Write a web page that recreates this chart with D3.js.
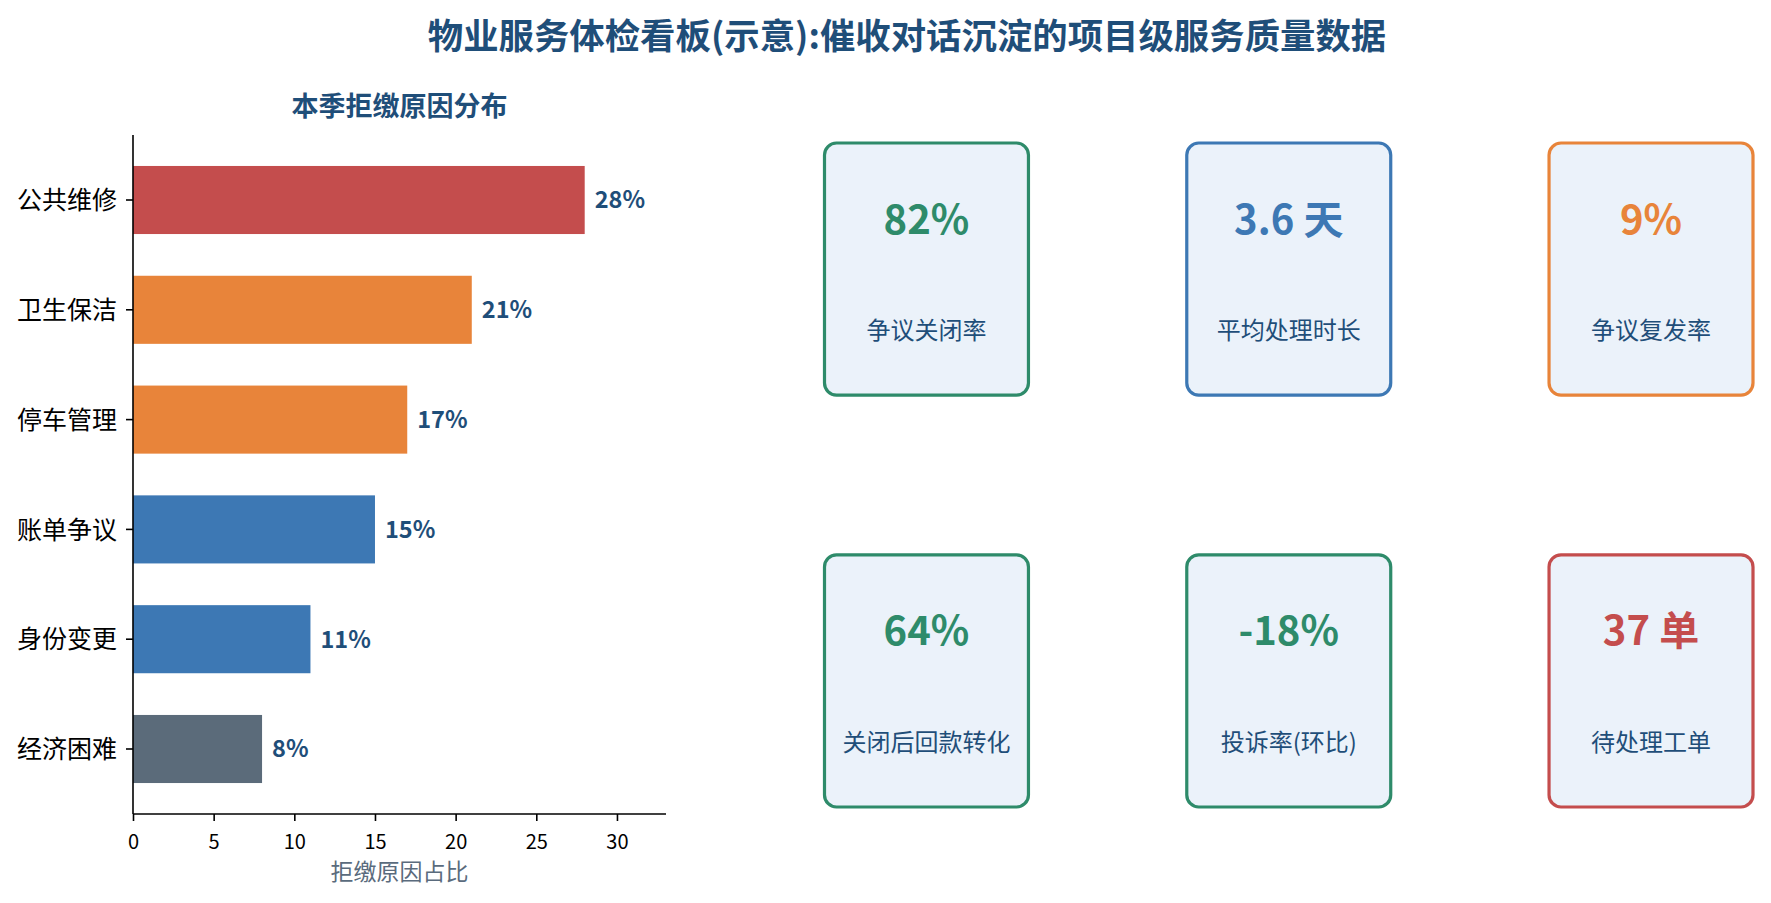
<!DOCTYPE html>
<html><head><meta charset="utf-8">
<script src="https://cdn.jsdelivr.net/npm/d3@7"></script>
<style>
body{margin:0;background:#fff}
svg{display:block}
text{font-family:'Noto Sans CJK SC','Noto Sans',sans-serif}
</style>
</head><body>
<svg id="chart" width="1771" height="903"></svg>
<script>
// ---- data ----
const mainTitle = "物业服务体检看板(示意):催收对话沉淀的项目级服务质量数据";
const barTitle = "本季拒缴原因分布";
const xAxisLabel = "拒缴原因占比";
const categories = ["公共维修", "卫生保洁", "停车管理", "账单争议", "身份变更", "经济困难"];
const shares = [28, 21, 17, 15, 11, 8];
const xTickValues = [0, 5, 10, 15, 20, 25, 30];
const kpiValues = ["82%", "3.6 天", "9%", "64%", "-18%", "37 单"];
const kpiLabels = ["争议关闭率", "平均处理时长", "争议复发率", "关闭后回款转化", "投诉率(环比)", "待处理工单"];
const kpiStatus = ["good", "info", "warn", "good", "good", "bad"];

// ---- styles ----
const NAVY = "#1F4E79";
const svg = d3.select("#chart");

svg.append("text")
  .attr("x", 907).attr("y", 49)
  .attr("text-anchor", "middle")
  .attr("font-size", 35.4).attr("font-weight", 700)
  .attr("fill", NAVY)
  .text(mainTitle);

// ---- bar chart ----
const pLeft = 133, pRight = 666, pTop = 135, pBottom = 814;
const x = d3.scaleLinear().domain([0, d3.max(shares) * 1.18]).range([pLeft, pRight]);
const y = d3.scaleBand().domain(categories).range([pTop, pBottom])
  .paddingInner(0.38).paddingOuter(0.282);
const barColor = d3.scaleThreshold().domain([10, 16, 25])
  .range(["#5B6B7A", "#3D78B4", "#E8843A", "#C44D4D"]);

svg.append("text")
  .attr("x", (pLeft + pRight) / 2).attr("y", 116)
  .attr("text-anchor", "middle")
  .attr("font-size", 27).attr("font-weight", 700)
  .attr("fill", NAVY)
  .text(barTitle);

svg.append("g").selectAll("rect")
  .data(categories)
  .join("rect")
  .attr("x", x(0))
  .attr("y", d => y(d))
  .attr("width", (d, i) => x(shares[i]) - x(0))
  .attr("height", y.bandwidth())
  .attr("fill", (d, i) => barColor(shares[i]));

svg.append("g").selectAll("text")
  .data(categories)
  .join("text")
  .attr("x", (d, i) => x(shares[i]) + 10)
  .attr("y", d => y(d) + y.bandwidth() / 2)
  .attr("dy", "0.36em")
  .attr("font-size", 23.5).attr("font-weight", 700)
  .attr("fill", NAVY)
  .text((d, i) => shares[i] + "%");

const xAxis = svg.append("g")
  .attr("transform", `translate(0,${pBottom})`)
  .call(d3.axisBottom(x).tickValues(xTickValues).tickSize(7).tickSizeOuter(0).tickPadding(7));
xAxis.selectAll("text").attr("y", 35).attr("dy", 0)
  .attr("font-size", 20).attr("fill", "#000")
  .attr("font-family", "'Noto Sans CJK SC','Noto Sans',sans-serif");

const yAxis = svg.append("g")
  .attr("transform", `translate(${pLeft},0)`)
  .call(d3.axisLeft(y).tickSize(7).tickSizeOuter(0).tickPadding(9));
yAxis.selectAll("text").attr("dy", "0.37em")
  .attr("font-size", 25).attr("fill", "#000")
  .attr("font-family", "'Noto Sans CJK SC','Noto Sans',sans-serif");

[xAxis, yAxis].forEach(g => {
  g.select(".domain").attr("stroke", "#000").attr("stroke-width", 1.6);
  g.selectAll(".tick line").attr("stroke", "#000").attr("stroke-width", 1.6);
});
yAxis.select(".domain").attr("d", `M0,${pTop}V${pBottom}`);
xAxis.select(".domain").attr("d", `M${pLeft},0H${pRight}`);

svg.append("text")
  .attr("x", (pLeft + pRight) / 2).attr("y", 880)
  .attr("text-anchor", "middle")
  .attr("font-size", 23)
  .attr("fill", "#5A6B7D")
  .text(xAxisLabel);

// ---- KPI cards ----
const kpiColor = d3.scaleOrdinal().domain(["good", "info", "warn", "bad"])
  .range(["#2E8B6A", "#3D78B4", "#E8843A", "#C44D4D"]);
const col = d3.scaleBand().domain([0, 1, 2]).range([824.5, 1753]).paddingInner(0.437).paddingOuter(0);
const row = d3.scaleBand().domain([0, 1]).range([143, 807]).paddingInner(0.388).paddingOuter(0);

const cards = svg.append("g").selectAll("g")
  .data(kpiValues)
  .join("g")
  .attr("transform", (d, i) => `translate(${col(i % 3)},${row(Math.floor(i / 3))})`);

cards.append("rect")
  .attr("width", col.bandwidth())
  .attr("height", row.bandwidth())
  .attr("rx", 12).attr("ry", 12)
  .attr("fill", "#EBF2FA")
  .attr("stroke", (d, i) => kpiColor(kpiStatus[i]))
  .attr("stroke-width", 3.2);

cards.append("text")
  .attr("x", col.bandwidth() / 2).attr("y", 90.5)
  .attr("text-anchor", "middle")
  .attr("font-size", 40).attr("font-weight", 700)
  .attr("fill", (d, i) => kpiColor(kpiStatus[i]))
  .text(d => d);

cards.append("text")
  .attr("x", col.bandwidth() / 2).attr("y", 196)
  .attr("text-anchor", "middle")
  .attr("font-size", 24)
  .attr("fill", NAVY)
  .text((d, i) => kpiLabels[i]);
</script>
</body></html>
